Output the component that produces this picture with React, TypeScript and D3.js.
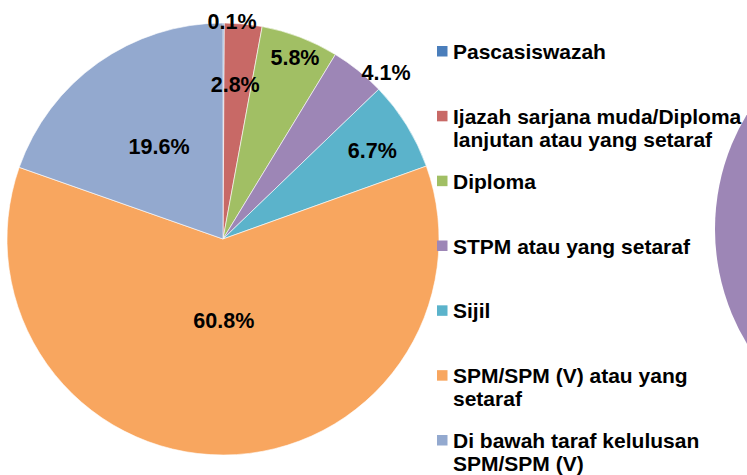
import React, { useRef, useEffect } from 'react';
import * as d3 from 'd3';

// data
const categories = [
  'Pascasiswazah',
  'Ijazah sarjana muda/Diploma lanjutan atau yang setaraf',
  'Diploma',
  'STPM atau yang setaraf',
  'Sijil',
  'SPM/SPM (V) atau yang setaraf',
  'Di bawah taraf kelulusan SPM/SPM (V)',
];
const shares = [0.1, 2.8, 5.8, 4.1, 6.7, 60.8, 19.6];
const legendLines = [
  ['Pascasiswazah'],
  ['Ijazah sarjana muda/Diploma', 'lanjutan atau yang setaraf'],
  ['Diploma'],
  ['STPM atau yang setaraf'],
  ['Sijil'],
  ['SPM/SPM (V) atau yang', 'setaraf'],
  ['Di bawah taraf kelulusan', 'SPM/SPM (V)'],
];
const colors = ['#4a7ebb', '#c86966', '#a1bf64', '#9d86b6', '#5bb3cb', '#f8a65f', '#93a9cf'];

// layout (label placement roughly as excel's "best fit")
const labelRadius = [1.01, 0.72, 0.905, 1.08, 0.805, 0.375, 0.52];
const labelNudgeDeg = [2.2, -0.9, 0.7, 5.6, 1.0, -0.4, 0.6];

const W = 747;
const H = 475;
const cx = 223;
const cy = 239;
const R = 216;
const font = "Arial, 'Liberation Sans', sans-serif";

const App = () => {
  const ref = useRef<SVGSVGElement>(null);

  useEffect(() => {
    const svg = d3.select(ref.current);
    svg.selectAll('*').remove();

    const pie = d3.pie<number>().sort(null).value(d => d);
    const arcs = pie(shares);
    const arc = d3.arc<d3.PieArcDatum<number>>().innerRadius(0).outerRadius(R);

    // neighbouring chart, cut off at the right edge
    svg.append('path')
      .attr('transform', `translate(${937},${229})`)
      .attr('d', d3.arc()({ innerRadius: 0, outerRadius: 222, startAngle: 0, endAngle: 2 * Math.PI } as any))
      .attr('fill', colors[3]);

    const g = svg.append('g').attr('transform', `translate(${cx},${cy})`);

    g.selectAll('path')
      .data(arcs)
      .join('path')
      .attr('d', arc)
      .attr('fill', (_, i) => colors[i])
      .attr('stroke', '#fff')
      .attr('stroke-width', 0.6);

    const labelAngle = (d: d3.PieArcDatum<number>, i: number) =>
      (d.startAngle + d.endAngle) / 2 + (labelNudgeDeg[i] * Math.PI) / 180;

    g.selectAll('text')
      .data(arcs)
      .join('text')
      .attr('x', (d, i) => Math.sin(labelAngle(d, i)) * R * labelRadius[i])
      .attr('y', (d, i) => -Math.cos(labelAngle(d, i)) * R * labelRadius[i])
      .attr('dy', '0.36em')
      .attr('text-anchor', 'middle')
      .attr('font-family', font)
      .attr('font-weight', 'bold')
      .attr('font-size', 21.5)
      .attr('fill', '#000')
      .text(d => `${d.data.toFixed(1)}%`);

    // legend
    const legendY = d3.scaleLinear().domain([0, categories.length - 1]).range([59, 448]);
    const legend = svg.append('g');
    const item = legend.selectAll('g')
      .data(categories)
      .join('g')
      .attr('transform', (_, i) => `translate(437,${legendY(i)})`);

    item.append('rect')
      .attr('x', 0)
      .attr('y', -13)
      .attr('width', 10.5)
      .attr('height', 10.5)
      .attr('fill', (_, i) => colors[i]);

    item.append('text')
      .attr('font-family', font)
      .attr('font-weight', 'bold')
      .attr('font-size', 21)
      .attr('fill', '#000')
      .selectAll('tspan')
      .data((_, i) => legendLines[i])
      .join('tspan')
      .attr('x', 16)
      .attr('y', (_, j) => j * 23)
      .text(d => d);
  }, []);

  return (
    <svg
      ref={ref}
      width={W}
      height={H}
      style={{ position: 'fixed', left: 0, top: 0, background: '#fff' }}
    />
  );
};

export default App;
